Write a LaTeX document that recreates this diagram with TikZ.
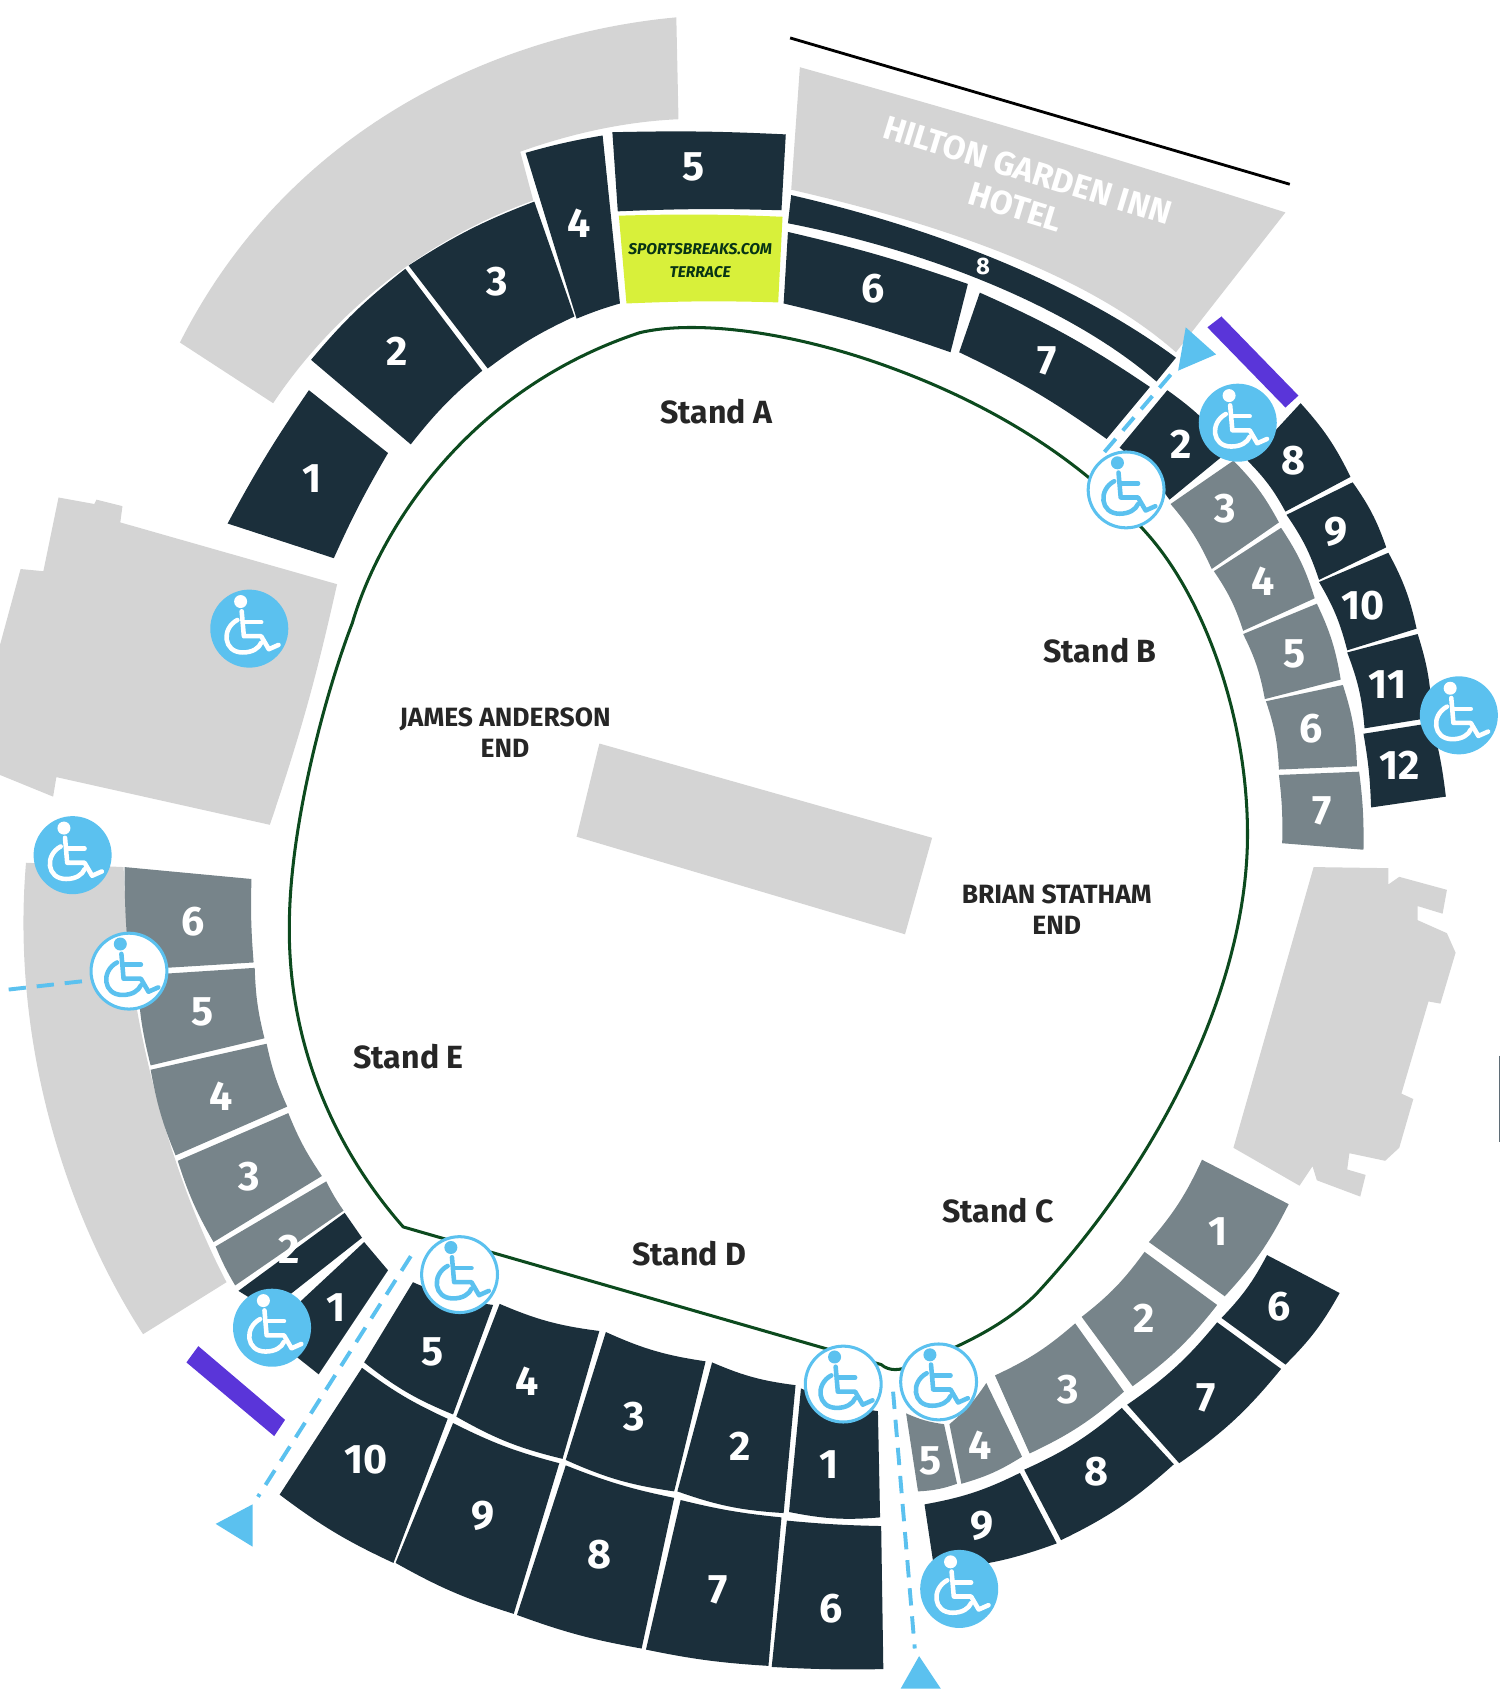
\documentclass[tikz,border=0pt]{standalone}
\usepackage{fontspec}
\setmainfont{Fira Sans}
\definecolor{seatdark}{HTML}{1B2F3B}
\definecolor{seatgrey}{HTML}{77848A}
\definecolor{blockgrey}{HTML}{D4D4D4}
\definecolor{terraceyellow}{HTML}{D8F03A}
\definecolor{chairblue}{HTML}{5BC1EF}
\definecolor{barpurple}{HTML}{5A35D9}
\definecolor{fieldgreen}{HTML}{0C4A1E}
\tikzset{
  darkseat/.style={fill=seatdark},
  greyseat/.style={fill=seatgrey},
  seatno/.style={text=white,font=\bfseries\fontsize{19}{19}\selectfont,inner sep=0pt},
  standname/.style={text=black!85,font=\fontsize{14.8}{14.8}\selectfont\bfseries,inner sep=0pt},
  endname/.style={text=black!85,font=\fontsize{12.2}{14.5}\selectfont\bfseries,align=center,inner sep=0pt},
  hotelname/.style={text=white,font=\fontsize{15.3}{15.3}\selectfont\bfseries,inner sep=0pt,rotate=-17},
  terracename/.style={text=fieldgreen!70!black,font=\bfseries\itshape\fontsize{7.2}{7.2}\selectfont,inner sep=0pt},
  accessfull/.style={circle,fill=chairblue,minimum size=36pt,inner sep=0pt},
  accessring/.style={circle,fill=white,draw=chairblue,line width=1.4pt,minimum size=35pt,inner sep=0pt},
  routeline/.style={chairblue,line width=1.8pt,dash pattern=on 8pt off 5pt},
}
\newcommand\seat[6][8]{\fill[#2] (#3) to[bend left=#1] (#4) -- (#5) to[bend right=#1] (#6) -- cycle;}
\newcommand\chair[4]{
  \node[#3] (#1) at (#2) {};
  \begin{scope}[shift={(#2)},#4,line width=2.1pt,line cap=round,line join=round]
    \fill (-8,-25) circle (6);
    \draw (-7,-16)--(-5,7)--(11,7)--(18,19)--(27,15);
    \draw (-5,-6)--(11,-6);
    \draw (-11,-8) .. controls (-26,0) and (-24,22) .. (-6,22) .. controls (3,22) and (9,18) .. (11,13);
  \end{scope}
}
\begin{document}
\begin{tikzpicture}[x=0.5pt,y=-0.5pt]
  \useasboundingbox (0,0) rectangle (1384,1568.5);

  %% grey blocks
  \fill[blockgrey] (624,16) .. controls (470,30) and (270,110) .. (166,316) -- (252,372)
    .. controls (300,300) and (380,225) .. (492,185) -- (480,140) .. controls (530,122) and (580,112) .. (626,110) -- cycle;
  \fill[blockgrey] (54,459)--(87,465)--(89,461)--(113,467)--(111,482)--(311,539)
    to[bend left=3] (249,761)--(52,717)--(49,735)--(0,715)--(0,595)--(19,525)--(40,527)--cycle;
  \fill[blockgrey] (24,796)--(114,800)--(117,860) .. controls (125,960) and (160,1090) .. (209,1183)--(132,1231)
    .. controls (60,1120) and (10,960) .. cycle;
  \fill[blockgrey] (738,62) to[bend left=1] (1186,196)--(1085,325) .. controls (1000,250) and (860,205) .. (730,175)--cycle;
  \fill[blockgrey] (1212,800)--(1281,801)--(1281,816)--(1291,809)--(1335,821)--(1331,843)--(1308,836)--(1308,849)
    --(1335,861)--(1343,879)--(1329,926)--(1318,924)--(1293,1009)--(1304,1014)--(1291,1059)--(1278,1071)--(1245,1064)
    --(1243,1079)--(1260,1084)--(1255,1104)--(1215,1089)--(1211,1076)--(1199,1094)--(1138,1059)--cycle;
  \fill[blockgrey] (553,686)--(860,773)--(835,862)--(532,772)--cycle;

  \draw[black,line width=1.3pt] (729,35)--(1190,170);
  \draw[seatdark!70,line width=0.8pt] (1383.5,974)--(1383.5,1054);

  %% Stand A
  \seat[3]{darkseat}{210,483}{285,360}{358,418}{308,515}
  \seat[6]{darkseat}{287,332}{374,248}{445,342}{379,410}
  \seat[6]{darkseat}{377,245}{493,186}{530,292}{450,340}
  \seat[3]{darkseat}{485,141}{556,125}{572,280}{532,294}
  \seat[2]{darkseat}{565,122}{725,124}{721,194}{570,195}
  \fill[terraceyellow] (571,199) to[bend left=2] (722,200)--(718,279) to[bend right=2] (578,280)--cycle;
  \seat[3]{darkseat}{727,214}{893,262}{877,325}{723,280}
  \seat[5]{darkseat}{904,270}{1061,357}{1021,405}{885,325}
  \fill[seatdark] (730,180) .. controls (860,210) and (990,260) .. (1085,330)--(1067,352)
    .. controls (990,285) and (860,232) .. (727,206)--cycle;

  %% Stand B
  \seat{darkseat}{1077,360}{1135,415}{1079,461}{1033,413}
  \seat{greyseat}{1138,425}{1180,482}{1118,525}{1080,465}
  \seat{greyseat}{1182,487}{1213,552}{1147,582}{1120,527}
  \seat{greyseat}{1215,557}{1237,627}{1167,645}{1147,585}
  \seat{greyseat}{1239,632}{1252,707}{1180,710}{1168,647}
  \seat[4]{greyseat}{1254,712}{1258,784}{1183,778}{1180,715}
  \seat{darkseat}{1200,372}{1246,440}{1186,472}{1151,425}
  \seat{darkseat}{1248,445}{1279,505}{1217,535}{1187,475}
  \seat{darkseat}{1281,510}{1307,580}{1243,600}{1217,537}
  \seat{darkseat}{1308,585}{1321,662}{1259,672}{1243,602}
  \seat[4]{darkseat}{1321,667}{1334,735}{1265,745}{1258,677}

  %% Stand C
  \seat{greyseat}{1189,1111}{1130,1196}{1060,1146}{1109,1070}
  \seat{greyseat}{1123,1204}{1045,1279}{998,1215}{1056,1155}
  \seat{greyseat}{1037,1284}{950,1341}{918,1269}{992,1221}
  \seat{greyseat}{943,1344}{887,1369}{876,1314}{910,1276}
  \seat{greyseat}{883,1369}{847,1376}{836,1304}{871,1314}
  \seat{darkseat}{1236,1193}{1186,1259}{1127,1216}{1169,1158}
  \seat{darkseat}{1182,1263}{1088,1350}{1040,1296}{1123,1220}
  \seat{darkseat}{1083,1351}{979,1421}{945,1356}{1035,1299}
  \seat{darkseat}{975,1424}{862,1448}{853,1388}{941,1359}

  %% Stand D
  \seat{darkseat}{812,1400}{728,1395}{739,1281}{810,1302}
  \seat{darkseat}{723,1396}{625,1376}{657,1257}{734,1278}
  \seat{darkseat}{622,1376}{522,1347}{559,1229}{651,1256}
  \seat{darkseat}{519,1346}{421,1307}{461,1203}{553,1228}
  \seat{darkseat}{418,1305}{336,1257}{381,1183}{455,1204}
  \seat[2]{darkseat}{815,1540}{712,1538}{726,1403}{813,1408}
  \seat[4]{darkseat}{709,1537}{596,1522}{628,1384}{721,1400}
  \seat[5]{darkseat}{592,1521}{477,1490}{522,1352}{622,1382}
  \seat[6]{darkseat}{474,1489}{365,1442}{418,1313}{516,1350}
  \seat[6]{darkseat}{363,1442}{258,1379}{334,1262}{413,1309}

  %% Stand E
  \fill[seatdark] (358,1172)--(294,1268)--(265,1245)--(278,1200)--(336,1146)--cycle;
  \fill[seatdark] (220,1191)--(318,1119)--(334,1142)--(249,1209)--cycle;
  \seat[4]{greyseat}{217,1186}{199,1150}{301,1090}{317,1117}
  \seat[6]{greyseat}{197,1146}{164,1071}{266,1027}{297,1085}
  \seat[6]{greyseat}{162,1066}{139,987}{246,963}{265,1021}
  \seat[6]{greyseat}{139,983}{127,900}{235,893}{244,958}
  \seat[3]{greyseat}{120,895}{115,800}{232,811}{234,888}

  %% field
  \draw[fieldgreen,line width=1.4pt,line join=round] (372,1132)
    .. controls (300,1050) and (265,950) .. (267,850)
    .. controls (268,760) and (300,640) .. (325,575)
    .. controls (350,490) and (430,360) .. (590,307)
    .. controls (640,295) and (730,305) .. (824,340)
    .. controls (900,368) and (990,415) .. (1058,492)
    .. controls (1110,550) and (1151,660) .. (1151,770)
    .. controls (1151,900) and (1080,1060) .. (956,1194)
    .. controls (925,1225) and (880,1245) .. (840,1260)
    .. controls (830,1265) and (820,1265) .. (813,1259) -- cycle;

  %% routes and bars
  \coordinate (routeAa) at (1019,417);
  \coordinate (routeAb) at (1085,340);
  \coordinate (routeBa) at (8,913);
  \coordinate (routeBb) at (79,905);
  \coordinate (routeCa) at (379,1159);
  \coordinate (routeCb) at (238,1381);
  \coordinate (routeDa) at (824,1284);
  \coordinate (routeDb) at (844,1521);
  \draw[routeline] (routeAa)--(routeAb);
  \draw[routeline] (routeBa)--(routeBb);
  \draw[routeline] (routeCa)--(routeCb);
  \draw[routeline] (routeDa)--(routeDb);
  \fill[chairblue] (1094,302)--(1122,327)--(1087,342)--cycle;
  \fill[chairblue] (233,1388)--(199,1406)--(233,1427)--cycle;
  \fill[chairblue] (848,1528)--(868,1558)--(831,1558)--cycle;
  \fill[barpurple] (1127,292)--(1198,365)--(1186,376)--(1114,302)--cycle;
  \fill[barpurple] (183,1242)--(263,1310)--(253,1325)--(172,1257)--cycle;

  %% access points
  \chair{accA}{230,580}{accessfull}{white,draw=white,fill=white}
  \chair{accB}{1142,390}{accessfull}{white,draw=white,fill=white}
  \chair{accC}{1346,660}{accessfull}{white,draw=white,fill=white}
  \chair{accD}{67,789}{accessfull}{white,draw=white,fill=white}
  \chair{accE}{251,1225}{accessfull}{white,draw=white,fill=white}
  \chair{accF}{885,1466}{accessfull}{white,draw=white,fill=white}
  \chair{accG}{1039,452}{accessring}{chairblue,draw=chairblue,fill=chairblue}
  \chair{accH}{119,896}{accessring}{chairblue,draw=chairblue,fill=chairblue}
  \chair{accI}{424,1176}{accessring}{chairblue,draw=chairblue,fill=chairblue}
  \chair{accJ}{778,1277}{accessring}{chairblue,draw=chairblue,fill=chairblue}
  \chair{accK}{866,1275}{accessring}{chairblue,draw=chairblue,fill=chairblue}

  %% seat numbers
  \foreach \n/\x/\y/\t in {a1/288/442/1,a2/366/324/2,a3/459/260/3,a4/534/206/4,a5/640/154/5,a6/806/266/6,a7/966/333/7,
    b2/1090/410/2,b3/1130/469/3,b4/1165/536/4,b5/1194/603/5,b6/1210/672/6,b7/1220/748/7,b8/1193/425/8,b9/1233/491/9,
    b10/1258/559/10,b11/1280/632/11,b12/1291/706/12,
    c1/1124/1136/1,c2/1056/1216/2,c3/986/1282/3,c4/904/1333/4,c5/859/1348/5,c6/1180/1206/6,c7/1113/1290/7,c8/1012/1358/8,c9/906/1408/9,
    d1/765/1351/1,d2/683/1334/2,d3/585/1307/3,d4/486/1274/4,d5/399/1247/5,d6/767/1484/6,d7/663/1467/7,d8/553/1434/8,d9/446/1399/9,d10/338/1347/10,
    e1/310/1206/1,e2/267/1153/2,e3/230/1086/3,e4/204/1011/4,e5/187/934/5,e6/178/850/6}
    \node[seatno] (\n) at (\x,\y) {\t};
  \node[seatno,font=\bfseries\fontsize{11}{11}\selectfont] (a8) at (907,246) {8};

  \node[terracename] (terraceA) at (646,230) {SPORTSBREAKS.COM};
  \node[terracename] (terraceB) at (646,251) {TERRACE};

  \node[standname] (standA) at (661,380) {Stand A};
  \node[standname] (standB) at (1015,600) {Stand B};
  \node[standname] (standC) at (921,1117) {Stand C};
  \node[standname] (standD) at (636,1157) {Stand D};
  \node[standname] (standE) at (377,975) {Stand E};
  \node[endname] (endA) at (466,676) {JAMES ANDERSON\\END};
  \node[endname] (endB) at (975,839) {BRIAN STATHAM\\END};
  \node[hotelname] (hotelA) at (948,157) {HILTON GARDEN INN};
  \node[hotelname] (hotelB) at (937,191) {HOTEL};
\end{tikzpicture}
\end{document}
